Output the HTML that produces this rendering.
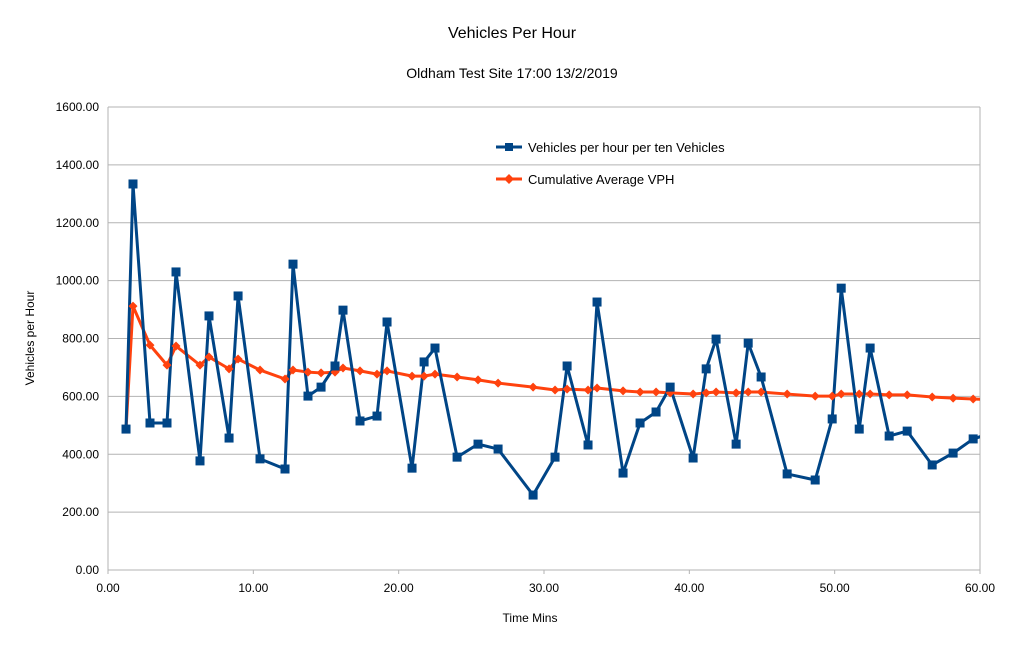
<!DOCTYPE html>
<html><head><meta charset="utf-8"><style>
body{margin:0;background:#fff;font-family:"Liberation Sans",sans-serif}
svg text{font-family:"Liberation Sans",sans-serif;fill:#000}
</style></head><body>
<svg id="chart" width="1022" height="645">
<rect width="1022" height="645" fill="#fff"/>
<text x="512" y="38" font-size="16" text-anchor="middle">Vehicles Per Hour</text>
<text x="512" y="78" font-size="14" text-anchor="middle">Oldham Test Site 17:00 13/2/2019</text>
<g id="grid"></g>
<g id="axes"></g>
<defs><clipPath id="pc"><rect x="108" y="100" width="872" height="475"/></clipPath></defs>
<g id="series" clip-path="url(#pc)"></g>
<text x="530" y="622" font-size="12" text-anchor="middle">Time Mins</text>
<text transform="translate(34,338) rotate(-90)" font-size="12" text-anchor="middle">Vehicles per Hour</text>
<g>
<g>
<line x1="496" y1="147" x2="522" y2="147" stroke="#004586" stroke-width="3"/>
<rect x="505" y="143" width="8" height="8" fill="#004586"/>
<text x="528" y="152" font-size="13">Vehicles per hour per ten Vehicles</text></g>
<g>
<line x1="496" y1="179" x2="522" y2="179" stroke="#ff420e" stroke-width="3"/>
<path d="M509 174L514 179L509 184L504 179Z" fill="#ff420e"/>
<text x="528" y="184" font-size="13">Cumulative Average VPH</text></g>
</g>
</svg>
<script>
const xTicks=[0,10,20,30,40,50,60];
const yTicks=[0,200,400,600,800,1000,1200,1400,1600];
const times=[1.24,1.72,2.89,4.06,4.68,6.33,6.95,8.33,8.95,10.46,12.18,12.73,13.76,14.66,15.62,16.17,17.34,18.51,19.2,20.92,21.75,22.5,24.02,25.46,26.84,29.25,30.76,31.59,33.03,33.65,35.44,36.61,37.71,38.68,40.26,41.16,41.84,43.22,44.05,44.94,46.73,48.66,49.83,50.45,51.69,52.44,53.75,54.99,56.71,58.15,59.53,60.6];
const vph=[487,1334,508,508,1030,377,878,456,947,384,349,1057,601,632,705,898,515,532,857,352,719,767,390,435,418,259,390,705,432,926,335,508,546,632,387,695,798,435,784,667,332,311,522,974,487,767,463,480,363,404,453,470];
const cumAvg=[487,912,777,708,774,708,736,695,729,691,660,691,684,681,684,698,688,677,688,670,670,677,667,657,646,632,622,625,622,629,619,615,615,612,608,612,615,612,615,615,608,601,601,608,608,608,605,605,598,594,591,589];
const X=v=>108+v*(872/60), Y=v=>570-v*(463/1600);
const NS="http://www.w3.org/2000/svg";
function mk(t,a,p){const e=document.createElementNS(NS,t);for(const k in a)e.setAttribute(k,a[k]);p.appendChild(e);return e;}
const grid=document.getElementById('grid'),axes=document.getElementById('axes'),ser=document.getElementById('series');
yTicks.forEach(t=>{const l=mk('line',{x1:108,x2:980,y1:Y(t),y2:Y(t),stroke:'#b3b3b3','stroke-width':1},grid);


const tx=mk('text',{x:99,y:Y(t)+4,'font-size':12,'text-anchor':'end'},axes);tx.textContent=t.toFixed(2);

});
mk('line',{x1:108,x2:108,y1:Y(1600),y2:574,stroke:'#b3b3b3'},grid);
mk('line',{x1:980,x2:980,y1:Y(1600),y2:Y(0),stroke:'#b3b3b3'},grid);
xTicks.forEach(t=>{mk('line',{x1:X(t),x2:X(t),y1:570,y2:574,stroke:'#b3b3b3'},grid);
const tx=mk('text',{x:X(t),y:592,'font-size':12,'text-anchor':'middle'},axes);tx.textContent=t.toFixed(2);

});
function line(vals,col,name){const p=mk('polyline',{points:times.map((t,i)=>X(t)+','+Y(vals[i])).join(' '),fill:'none',stroke:col,'stroke-width':3,'stroke-linejoin':'round'},ser);

}
line(cumAvg,'#ff420e','cumulative-line');
line(vph,'#004586','vph-line');
times.forEach((t,i)=>{const d=mk('path',{d:`M${X(t)} ${Y(cumAvg[i])-4.5}l4.5 4.5l-4.5 4.5l-4.5 -4.5z`,fill:'#ff420e'},ser);

});
times.forEach((t,i)=>{const r=mk('rect',{x:X(t)-4.5,y:Y(vph[i])-4.5,width:9,height:9,fill:'#004586'},ser);

});
</script>
</body></html>
